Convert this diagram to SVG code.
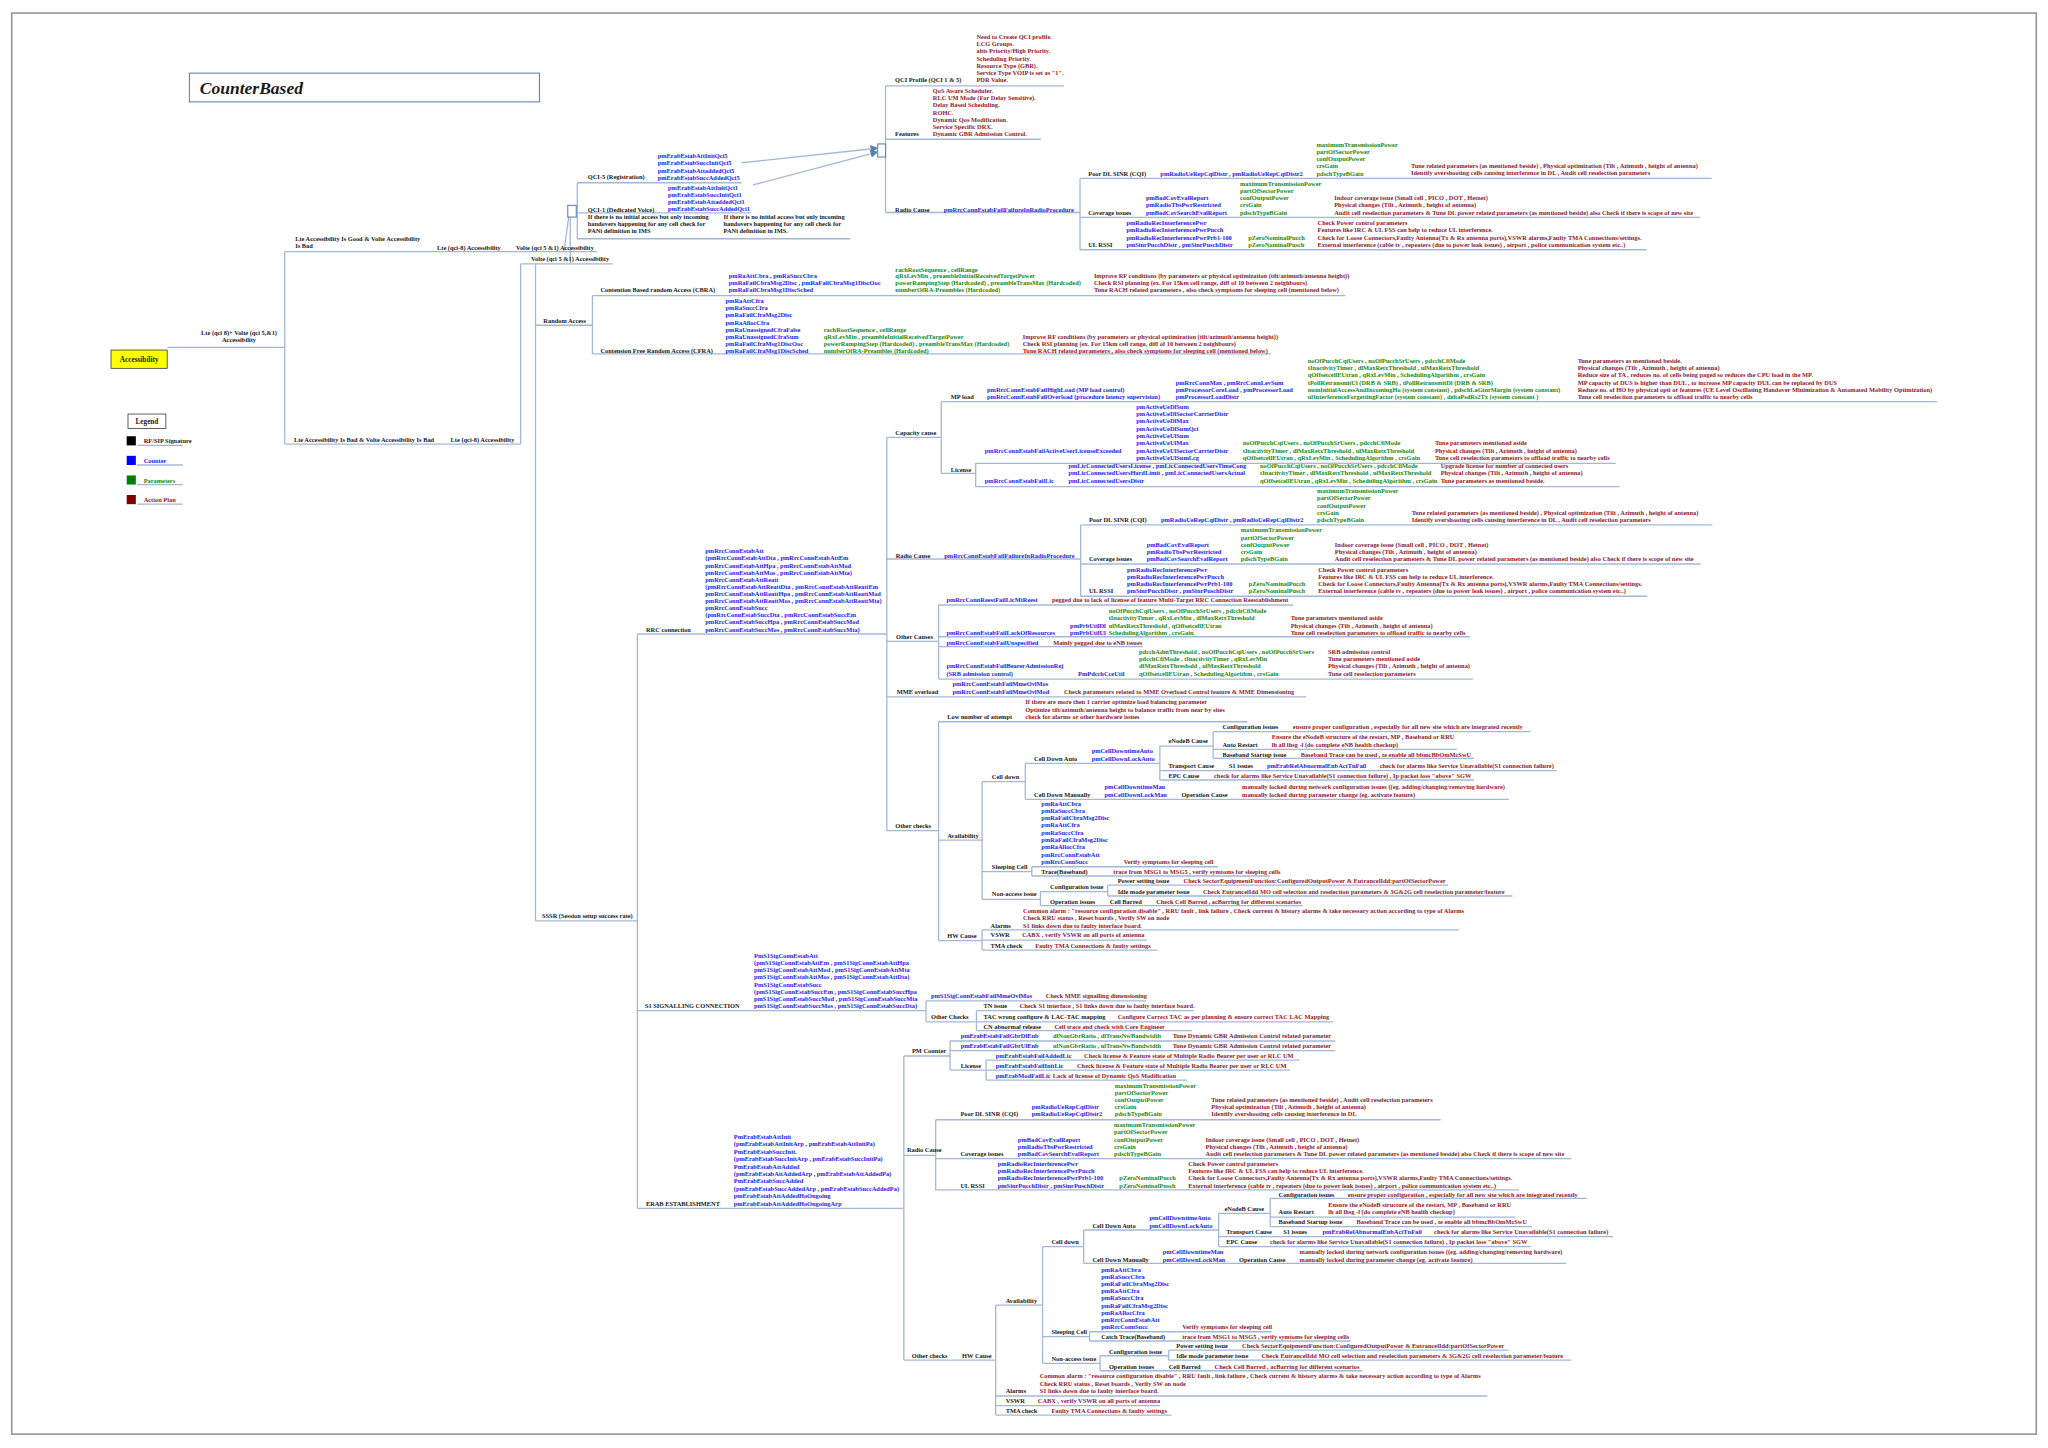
<svg xmlns="http://www.w3.org/2000/svg" width="2048" height="1448" viewBox="0 0 2048 1448">
<style>
text{font-family:"Liberation Serif","Times New Roman",serif;font-weight:bold;font-size:4.9px;}
.k{fill:#1a1a1a}
.b{fill:#1c1cf0}
.g{fill:#178a17}
.r{fill:#8e1b2c}
.c line{stroke:#a3b8d6;stroke-width:1;fill:none}
.box{fill:#fff;stroke:#5a80b0;stroke-width:0.8}
</style>
<defs>
<marker id="ah" markerWidth="6" markerHeight="6" refX="5" refY="3" orient="auto" markerUnits="userSpaceOnUse"><path d="M0,0 L6,3 L0,6 z" fill="#5a80b0"/></marker>
</defs>
<rect width="2048" height="1448" fill="#fff"/>
<g transform="scale(1.306122)">
<rect x="9" y="10" width="1550" height="1088" fill="none" stroke="#9a9a9a" stroke-width="1.3"/>

<g id="connectors" class="c">
<line x1="128" y1="266" x2="218" y2="266"/>
<line x1="218" y1="192.7" x2="218" y2="340"/>
<line x1="218" y1="192.7" x2="457" y2="192.7"/>
<line x1="218" y1="340" x2="398.6" y2="340"/>
<line x1="431.8" y1="192.7" x2="435.5" y2="165.4"/>
<line x1="436.6" y1="165.4" x2="436.6" y2="202"/>
<line x1="398.6" y1="202" x2="398.6" y2="340"/>
<line x1="398.6" y1="202" x2="469" y2="202"/>
<line x1="410" y1="202" x2="410" y2="705"/>
<line x1="410" y1="249" x2="453.6" y2="249"/>
<line x1="410" y1="705" x2="488" y2="705"/>
<line x1="453.6" y1="226.4" x2="453.6" y2="271"/>
<line x1="453.6" y1="226.4" x2="1030" y2="226.4"/>
<line x1="453.6" y1="271" x2="973" y2="271"/>
<line x1="442" y1="139.9" x2="442" y2="182.8"/>
<line x1="442" y1="139.9" x2="567.8" y2="139.9"/>
<line x1="442" y1="163" x2="574.8" y2="163"/>
<line x1="442" y1="182.8" x2="651" y2="182.8"/>
<line x1="567.8" y1="124.6" x2="671.5" y2="113.5" marker-end="url(#ah)"/>
<line x1="576.5" y1="141.6" x2="671.5" y2="116.5" marker-end="url(#ah)"/>
<line x1="678" y1="65.7" x2="678" y2="162.7"/>
<line x1="678" y1="65.7" x2="814.6" y2="65.7"/>
<line x1="678" y1="106.6" x2="796.8" y2="106.6"/>
<line x1="678" y1="162.7" x2="826.9" y2="162.7"/>
<line x1="826.9" y1="136.6" x2="826.9" y2="191.2"/>
<line x1="826.9" y1="136.6" x2="1310.5" y2="136.6"/>
<line x1="826.9" y1="166.5" x2="1301.6" y2="166.5"/>
<line x1="826.9" y1="191.2" x2="1260.7" y2="191.2"/>
<g transform="translate(0.5,265.3)">
<line x1="678" y1="162.7" x2="826.9" y2="162.7"/>
<line x1="826.9" y1="136.6" x2="826.9" y2="191.2"/>
<line x1="826.9" y1="136.6" x2="1310.5" y2="136.6"/>
<line x1="826.9" y1="166.5" x2="1301.6" y2="166.5"/>
<line x1="826.9" y1="191.2" x2="1260.7" y2="191.2"/>
</g>
<line x1="488" y1="485.4" x2="488" y2="925.2"/>
<line x1="488" y1="485.4" x2="679" y2="485.4"/>
<line x1="679" y1="334.8" x2="679" y2="636"/>
<line x1="679" y1="334.8" x2="720.6" y2="334.8"/>
<line x1="720.6" y1="307.5" x2="720.6" y2="362.4"/>
<line x1="720.6" y1="307.5" x2="1483" y2="307.5"/>
<line x1="720.6" y1="362.4" x2="747" y2="362.4"/>
<line x1="747" y1="354.7" x2="747" y2="372.6"/>
<line x1="747" y1="354.7" x2="1237" y2="354.7"/>
<line x1="747" y1="372.6" x2="1240" y2="372.6"/>
<line x1="679" y1="491" x2="718.6" y2="491"/>
<line x1="718.6" y1="463.2" x2="718.6" y2="519.9"/>
<line x1="718.6" y1="463.2" x2="990" y2="463.2"/>
<line x1="718.6" y1="487.5" x2="1125.5" y2="487.5"/>
<line x1="718.6" y1="495.1" x2="875" y2="495.1"/>
<line x1="718.6" y1="519.9" x2="1127.6" y2="519.9"/>
<line x1="679" y1="533.5" x2="1000" y2="533.5"/>
<line x1="679" y1="636" x2="718.6" y2="636"/>
<line x1="718.6" y1="552.6" x2="718.6" y2="720.2"/>
<line x1="718.6" y1="552.6" x2="955" y2="552.6"/>
<line x1="718.6" y1="643.2" x2="751.9" y2="643.2"/>
<line x1="751.9" y1="598.5" x2="751.9" y2="688.6"/>
<line x1="751.9" y1="598.5" x2="785" y2="598.5"/>
<line x1="785" y1="584.4" x2="785" y2="612"/>
<line x1="785" y1="584.4" x2="888" y2="584.4"/>
<line x1="888" y1="571.2" x2="888" y2="597.2"/>
<line x1="888" y1="571.2" x2="928.8" y2="571.2"/>
<line x1="928.8" y1="560.2" x2="928.8" y2="580.6"/>
<line x1="928.8" y1="560.2" x2="1171.8" y2="560.2"/>
<line x1="928.8" y1="573.7" x2="1115.3" y2="573.7"/>
<line x1="928.8" y1="580.6" x2="1128.6" y2="580.6"/>
<line x1="888" y1="590" x2="1191.7" y2="590"/>
<line x1="888" y1="597.2" x2="1128.6" y2="597.2"/>
<line x1="785" y1="612" x2="1155.2" y2="612"/>
<line x1="751.9" y1="667.4" x2="790" y2="667.4"/>
<line x1="790" y1="663.6" x2="790" y2="670.7"/>
<line x1="790" y1="663.6" x2="932.6" y2="663.6"/>
<line x1="790" y1="670.7" x2="972.6" y2="670.7"/>
<line x1="751.9" y1="688.6" x2="796.6" y2="688.6"/>
<line x1="796.6" y1="682.7" x2="796.6" y2="693.4"/>
<line x1="796.6" y1="682.7" x2="848.1" y2="682.7"/>
<line x1="848.1" y1="677.6" x2="848.1" y2="686"/>
<line x1="848.1" y1="677.6" x2="1108.6" y2="677.6"/>
<line x1="848.1" y1="686" x2="1157.9" y2="686"/>
<line x1="796.6" y1="693.4" x2="997.5" y2="693.4"/>
<line x1="718.6" y1="720.2" x2="751.9" y2="720.2"/>
<line x1="751.9" y1="712" x2="751.9" y2="727.4"/>
<line x1="751.9" y1="712" x2="1117" y2="712"/>
<line x1="751.9" y1="719.8" x2="878" y2="719.8"/>
<line x1="751.9" y1="727.4" x2="886.2" y2="727.4"/>
<line x1="488" y1="773.8" x2="709" y2="773.8"/>
<line x1="709" y1="766.3" x2="709" y2="782.3"/>
<line x1="709" y1="766.3" x2="877.5" y2="766.3"/>
<line x1="709" y1="782.3" x2="747.6" y2="782.3"/>
<line x1="747.6" y1="773.8" x2="747.6" y2="789"/>
<line x1="747.6" y1="773.8" x2="914" y2="773.8"/>
<line x1="747.6" y1="782.3" x2="1020.6" y2="782.3"/>
<line x1="747.6" y1="789" x2="912.5" y2="789"/>
<line x1="488" y1="925.2" x2="692" y2="925.2"/>
<line x1="692" y1="808.5" x2="692" y2="1041.3"/>
<line x1="692" y1="808.5" x2="727.4" y2="808.5"/>
<line x1="727.4" y1="797" x2="727.4" y2="819.3"/>
<line x1="727.4" y1="797" x2="1022.3" y2="797"/>
<line x1="727.4" y1="804.4" x2="1022.3" y2="804.4"/>
<line x1="727.4" y1="819.3" x2="755" y2="819.3"/>
<line x1="755" y1="811.6" x2="755" y2="827"/>
<line x1="755" y1="811.6" x2="994.9" y2="811.6"/>
<line x1="755" y1="819.3" x2="987.7" y2="819.3"/>
<line x1="755" y1="827" x2="908.8" y2="827"/>
<line x1="692" y1="884.6" x2="716.4" y2="884.6"/>
<line x1="716.4" y1="857.3" x2="716.4" y2="911"/>
<line x1="716.4" y1="857.3" x2="1103" y2="857.3"/>
<line x1="716.4" y1="887" x2="1203" y2="887"/>
<line x1="716.4" y1="911" x2="1163" y2="911"/>
<line x1="692" y1="1041.3" x2="762.3" y2="1041.3"/>
<line x1="762.3" y1="999.2" x2="762.3" y2="1083.4"/>
<line x1="762.3" y1="999.2" x2="798.2" y2="999.2"/>
<line x1="798.2" y1="954.5" x2="798.2" y2="1043.8"/>
<line x1="798.2" y1="954.5" x2="829.7" y2="954.5"/>
<line x1="829.7" y1="941.7" x2="829.7" y2="967.2"/>
<line x1="829.7" y1="941.7" x2="933" y2="941.7"/>
<line x1="933" y1="929" x2="933" y2="954.5"/>
<line x1="933" y1="929" x2="972.5" y2="929"/>
<line x1="972.5" y1="917.5" x2="972.5" y2="939.2"/>
<line x1="972.5" y1="917.5" x2="1215" y2="917.5"/>
<line x1="972.5" y1="931.8" x2="1160" y2="931.8"/>
<line x1="972.5" y1="939.2" x2="1173" y2="939.2"/>
<line x1="933" y1="946.8" x2="1235" y2="946.8"/>
<line x1="933" y1="954.5" x2="1172" y2="954.5"/>
<line x1="829.7" y1="967.2" x2="1199" y2="967.2"/>
<line x1="798.2" y1="1023.4" x2="834.2" y2="1023.4"/>
<line x1="834.2" y1="1019.6" x2="834.2" y2="1026.7"/>
<line x1="834.2" y1="1019.6" x2="973.5" y2="1019.6"/>
<line x1="834.2" y1="1026.7" x2="1034" y2="1026.7"/>
<line x1="798.2" y1="1043.8" x2="842.2" y2="1043.8"/>
<line x1="842.2" y1="1038" x2="842.2" y2="1049.5"/>
<line x1="842.2" y1="1038" x2="894.8" y2="1038"/>
<line x1="894.8" y1="1033.7" x2="894.8" y2="1041.3"/>
<line x1="894.8" y1="1033.7" x2="1155" y2="1033.7"/>
<line x1="894.8" y1="1041.3" x2="1203" y2="1041.3"/>
<line x1="842.2" y1="1049.5" x2="1043.1" y2="1049.5"/>
<line x1="762.3" y1="1068.8" x2="1138.8" y2="1068.8"/>
<line x1="762.3" y1="1076.2" x2="888" y2="1076.2"/>
<line x1="762.3" y1="1083.4" x2="897" y2="1083.4"/>
<line x1="105" y1="341" x2="140" y2="341"/>
<line x1="105" y1="356" x2="140" y2="356"/>
<line x1="105" y1="371" x2="140" y2="371"/>
<line x1="105" y1="386" x2="140" y2="386"/>
</g>

<g id="title"><rect x="145" y="56" width="268" height="22" class="box"/><text x="153" y="72" class="k" style="font-size:13.4px;font-style:italic">CounterBased</text></g>

<g id="legend">
<rect x="98" y="317" width="29" height="11" fill="#fff" stroke="#333" stroke-width="0.6"/>
<text class="k" x="112.5" y="325" text-anchor="middle" style="font-size:5.5px">Legend</text>
<rect x="97" y="334" width="7" height="7" fill="#000"/>
<rect x="97" y="349" width="7" height="7" fill="#0000ff"/>
<rect x="97" y="364" width="7" height="7" fill="#008000"/>
<rect x="97" y="379" width="7" height="7" fill="#800000"/>
<text class="k" x="110" y="339.5">RF/SIP Signature</text>
<text class="b" x="110" y="354.5">Counter</text>
<text class="g" x="110" y="369.5">Parameters</text>
<text class="r" x="110" y="384.5">Action Plan</text>
</g>

<g id="root"><rect x="85" y="268" width="43" height="14" fill="#ffff00" stroke="#333" stroke-width="0.6"/><text class="k" x="106.5" y="277.3" text-anchor="middle" style="font-size:5.6px">Accessibility</text></g>

<g id="nodes" transform="translate(0,1.2)">
<g id="n-lte-volte"><text class="k" x="183" y="255.5" text-anchor="middle">Lte (qci 8)+ Volte (qci 5,&amp;1)<tspan x="183" dy="5.5">Accessibility</tspan></text></g>
<g id="n-good-bad"><text class="k" x="226" y="183">Lte Accessibility Is Good &amp; Volte Accessibility<tspan x="226" dy="5.5">Is Bad</tspan></text>
<text class="k" x="334.6" y="190">Lte (qci-8) Accessibility</text>
<text class="k" x="395" y="190">Volte (qci 5 &amp;1) Accessibility</text></g>
<g id="n-bad-bad"><text class="k" x="225" y="337">Lte Accessibility Is Bad &amp; Volte Accessibility Is Bad</text>
<text class="k" x="345" y="337">Lte (qci-8) Accessibility</text></g>
<g id="n-volte2"><text class="k" x="406.6" y="198.5">Volte (qci 5 &amp;1) Accessibility</text></g>

<g id="n-qci"><rect x="434.7" y="156" width="6.5" height="9" class="box"/>
<rect x="672" y="109" width="6" height="10" class="box"/>
<text class="k" x="450" y="136">QCI-5 (Registration)</text>
<text class="b" x="503.6" y="120">pmErabEstabAttInitQci5<tspan x="503.6" dy="5.45">pmErabEstabSuccInitQci5</tspan><tspan x="503.6" dy="5.45">pmErabEstabAttaddedQci5</tspan><tspan x="503.6" dy="5.45">pmErabEstabSuccAddedQci5</tspan></text>
<text class="k" x="450" y="161">QCI-1 (Dedicated Voice)</text>
<text class="b" x="511.5" y="144.3">pmErabEstabAttInitQci1<tspan x="511.5" dy="5.45">pmErabEstabSuccInitQci1</tspan><tspan x="511.5" dy="5.45">pmErabEstabAttaddedQci1</tspan><tspan x="511.5" dy="5.45">pmErabEstabSuccAddedQci1</tspan></text>
<text class="k" x="450" y="166.3">If there is no initial access but only incoming<tspan x="450" dy="5.5">handovers happening  for any cell check for</tspan><tspan x="450" dy="5.5">PANi definition in IMS</tspan></text>
<text class="k" x="554" y="166.3">If there is no initial access but only incoming<tspan x="554" dy="5.5">handovers happening  for any cell check for</tspan><tspan x="554" dy="5.5">PANi definition in IMS.</tspan></text>
</g>

<g id="n-qciprofile"><text class="k" x="685.3" y="61.8">QCI Profile (QCI 1 &amp; 5)</text>
<text class="r" x="747.6" y="28.6">Need to Create QCI profile.<tspan x="747.6" dy="5.53">LCG Groups.</tspan><tspan x="747.6" dy="5.53">abis Priority/High Priority.</tspan><tspan x="747.6" dy="5.53">Scheduling Priority.</tspan><tspan x="747.6" dy="5.53">Resource Type (GBR).</tspan><tspan x="747.6" dy="5.53">Service Type VOIP is set as "1".</tspan><tspan x="747.6" dy="5.53">PDR Value.</tspan></text></g>
<g id="n-features"><text class="k" x="685.3" y="103.2">Features</text>
<text class="r" x="714.2" y="70">QoS Aware Scheduler.<tspan x="714.2" dy="5.53">RLC UM Mode (For Delay Sensitive).</tspan><tspan x="714.2" dy="5.53">Delay Based Scheduling.</tspan><tspan x="714.2" dy="5.53">ROHC.</tspan><tspan x="714.2" dy="5.53">Dynamic Qos Modification.</tspan><tspan x="714.2" dy="5.53">Service Specific DRX.</tspan><tspan x="714.2" dy="5.53">Dynamic GBR Admission Control.</tspan></text></g>

<g id="n-rc1">
<text class="k" x="685.3" y="160.9">Radio Cause</text>
<text class="b" x="722.5" y="160.9">pmRrcConnEstabFailFailureInRadioProcedure</text>
<text class="k" x="833.2" y="133.2">Poor DL SINR (CQI)</text>
<text class="b" x="888.4" y="133.2">pmRadioUeRepCqiDistr , pmRadioUeRepCqiDistr2</text>
<text class="g" x="1007.9" y="111.1">maximumTransmissionPower<tspan x="1007.9" dy="5.52">partOfSectorPower</tspan><tspan x="1007.9" dy="5.52">confOutputPower</tspan><tspan x="1007.9" dy="5.52">crsGain</tspan><tspan x="1007.9" dy="5.52">pdschTypeBGain</tspan></text>
<text class="r" x="1080.3" y="127.6">Tune related parameters (as mentioned beside) , Physical optimization (Tilt , Azimuth , height of antenna)<tspan x="1080.3" dy="5.52">Identify overshooting cells causing interference in DL , Audit cell reselection parameters</tspan></text>
<text class="k" x="833.2" y="163.2">Coverage issues</text>
<text class="b" x="877.4" y="152.1">pmBadCovEvalReport<tspan x="877.4" dy="5.52">pmRadioTbsPwrRestricted</tspan><tspan x="877.4" dy="5.52">pmBadCovSearchEvalReport</tspan></text>
<text class="g" x="949.4" y="141.1">maximumTransmissionPower<tspan x="949.4" dy="5.52">partOfSectorPower</tspan><tspan x="949.4" dy="5.52">confOutputPower</tspan><tspan x="949.4" dy="5.52">crsGain</tspan><tspan x="949.4" dy="5.52">pdschTypeBGain</tspan></text>
<text class="r" x="1021.5" y="152.1">Indoor coverage issue (Small cell , PICO , DOT , Hetnet)<tspan x="1021.5" dy="5.52">Physical changes (Tilt , Azimuth , height of antenna)</tspan><tspan x="1021.5" dy="5.52">Audit cell reselection parameters &amp; Tune DL power related parameters (as mentioned beside) also Check if there is scope of new site</tspan></text>
<text class="k" x="833.2" y="187.8">UL RSSI</text>
<text class="b" x="862.4" y="171.2">pmRadioRecInterferencePwr<tspan x="862.4" dy="5.52">pmRadioRecInterferencePwrPucch</tspan><tspan x="862.4" dy="5.52">pmRadioRecInterferencePwrPrb1-100</tspan><tspan x="862.4" dy="5.52">pmSinrPucchDistr , pmSinrPuschDistr</tspan></text>
<text class="g" x="955.6" y="182.2">pZeroNominalPucch<tspan x="955.6" dy="5.52">pZeroNominalPusch</tspan></text>
<text class="r" x="1008.8" y="171.2">Check Power control parameters<tspan x="1008.8" dy="5.52">Features like IRC &amp; UL FSS can help to reduce UL interference.</tspan><tspan x="1008.8" dy="5.52">Check for Loose Connectors,Faulty Antenna(Tx &amp; Rx antenna ports),VSWR alarms,Faulty TMA Connections/settings.</tspan><tspan x="1008.8" dy="5.52">External interference (cable tv , repeaters (due to power leak issues) , airport , police communication system etc..)</tspan></text>
</g>

<g id="n-random-access"><text class="k" x="416" y="246">Random Access</text>
<text class="k" x="459.7" y="222.6">Contention Based random Access (CBRA)</text>
<text class="b" x="558" y="212">pmRaAttCbra , pmRaSuccCbra<tspan x="558" dy="5.3">pmRaFailCbraMsg2Disc , pmRaFailCbraMsg1DiscOoc</tspan><tspan x="558" dy="5.3">pmRaFailCbraMsg1DiscSched</tspan></text>
<text class="g" x="685.5" y="206.7">rachRootSequence , cellRange<tspan x="685.5" dy="5.3">qRxLevMin , preambleInitialReceivedTargetPower</tspan><tspan x="685.5" dy="5.3">powerRampingStep (Hardcoded) , preambleTransMax (Hardcoded)</tspan><tspan x="685.5" dy="5.3">numberOfRA-Preambles (Hardcoded)</tspan></text>
<text class="r" x="837.5" y="212">Improve RF conditions (by parameters or physical optimization (tilt/azimuth/antenna height))<tspan x="837.5" dy="5.3">Check RSI planning (ex. For 15km cell range, diff of 10 between 2 neighbours)</tspan><tspan x="837.5" dy="5.3">Tune RACH related parameters , also check symptoms for sleeping cell (mentioned below)</tspan></text>
<text class="k" x="459.7" y="269.3">Contension Free Random Access (CFRA)</text>
<text class="b" x="555.5" y="230.8">pmRaAttCfra<tspan x="555.5" dy="5.5">pmRaSuccCfra</tspan><tspan x="555.5" dy="5.5">pmRaFailCfraMsg2Disc</tspan><tspan x="555.5" dy="5.5">pmRaAllocCfra</tspan><tspan x="555.5" dy="5.5">pmRaUnassignedCfraFalse</tspan><tspan x="555.5" dy="5.5">pmRaUnassignedCfraSum</tspan><tspan x="555.5" dy="5.5">pmRaFailCfraMsg1DiscOoc</tspan><tspan x="555.5" dy="5.5">pmRaFailCfraMsg1DiscSched</tspan></text>
<text class="g" x="630.7" y="252.8">rachRootSequence , cellRange<tspan x="630.7" dy="5.5">qRxLevMin , preambleInitialReceivedTargetPower</tspan><tspan x="630.7" dy="5.5">powerRampingStep (Hardcoded) , preambleTransMax (Hardcoded)</tspan><tspan x="630.7" dy="5.5">numberOfRA-Preambles (Hardcoded)</tspan></text>
<text class="r" x="783" y="258.3">Improve RF conditions (by parameters or physical optimization (tilt/azimuth/antenna height))<tspan x="783" dy="5.5">Check RSI planning (ex. For 15km cell range, diff of 10 between 2 neighbours)</tspan><tspan x="783" dy="5.5">Tune RACH related parameters , also check symptoms for sleeping cell (mentioned below)</tspan></text>
</g>

<g id="n-sssr"><text class="k" x="415" y="702">SSSR (Session setup success rate)</text></g>

<g id="n-rrc"><text class="k" x="494.6" y="482.4">RRC connection</text>
<text class="b" x="540" y="422.4">pmRrcConnEstabAtt<tspan x="540" dy="5.45">(pmRrcConnEstabAttDta , pmRrcConnEstabAttEm</tspan><tspan x="540" dy="5.45">pmRrcConnEstabAttHpa , pmRrcConnEstabAttMod</tspan><tspan x="540" dy="5.45">pmRrcConnEstabAttMos , pmRrcConnEstabAttMta)</tspan><tspan x="540" dy="5.45">pmRrcConnEstabAttReatt</tspan><tspan x="540" dy="5.45">(pmRrcConnEstabAttReattDta , pmRrcConnEstabAttReattEm</tspan><tspan x="540" dy="5.45">pmRrcConnEstabAttReattHpa , pmRrcConnEstabAttReattMod</tspan><tspan x="540" dy="5.45">pmRrcConnEstabAttReattMos , pmRrcConnEstabAttReattMta)</tspan><tspan x="540" dy="5.45">pmRrcConnEstabSucc</tspan><tspan x="540" dy="5.45">(pmRrcConnEstabSuccDta , pmRrcConnEstabSuccEm</tspan><tspan x="540" dy="5.45">pmRrcConnEstabSuccHpa , pmRrcConnEstabSuccMod</tspan><tspan x="540" dy="5.45">pmRrcConnEstabSuccMos , pmRrcConnEstabSuccMta)</tspan></text>
</g>

<g id="n-capacity"><text class="k" x="685.5" y="331.8">Capacity cause</text>
<text class="k" x="728" y="304.5">MP load</text>
<text class="b" x="755.7" y="298.8">pmRrcConnEstabFailHighLoad (MP load control)<tspan x="755.7" dy="5.65">pmRrcConnEstabFailOverload (procedure latency supervision)</tspan></text>
<text class="b" x="900.2" y="293.2">pmRrcConnMax , pmRrcConnLevSum<tspan x="900.2" dy="5.65">pmProcessorCoreLoad , pmProcessorLoad</tspan><tspan x="900.2" dy="5.65">pmProcessorLoadDistr</tspan></text>
<text class="g" x="1001.3" y="276.4">noOfPucchCqiUsers , noOfPucchSrUsers , pdcchCfiMode<tspan x="1001.3" dy="5.62">tInactivityTimer , dlMaxRetxThreshold , ulMaxRetxThreshold</tspan><tspan x="1001.3" dy="5.62">qOffsetcellEUtran , qRxLevMin , SchedulingAlgorithm , crsGain</tspan><tspan x="1001.3" dy="5.62">tPollRetransmitUl (DRB &amp; SRB) , tPollRetransmitDl (DRB &amp; SRB)</tspan><tspan x="1001.3" dy="5.62">numInitialAccessAndIncomingHo (system constant) , pdschLaGinrMargin (system constant)</tspan><tspan x="1001.3" dy="5.62">ulInterferenceForgettingFactor (system constant) , deltaPsdRs2Tx (system constant )</tspan></text>
<text class="r" x="1207.9" y="276.4">Tune parameters as mentioned beside.<tspan x="1207.9" dy="5.62">Physical changes (Tilt , Azimuth , height of antenna)</tspan><tspan x="1207.9" dy="5.62">Reduce size of TA , reduces no. of cells being paged so reduces the CPU load in the MP.</tspan><tspan x="1207.9" dy="5.62">MP capacity of DUS is higher than DUL , to increase MP capacity DUL can be replaced by DUS</tspan><tspan x="1207.9" dy="5.62">Reduce no. of HO by physical opti or features (UE Level Oscillating Handover Minimization &amp; Automated Mobility Optimization)</tspan><tspan x="1207.9" dy="5.62">Tune cell reselection parameters to offload traffic to nearby cells</tspan></text>
<text class="k" x="728" y="360.4">License</text>
<text class="b" x="754" y="345.4">pmRrcConnEstabFailActiveUserLicenseExceeded</text>
<text class="b" x="870" y="311.9">pmActiveUeDlSum<tspan x="870" dy="5.57">pmActiveUeDlSectorCarrierDistr</tspan><tspan x="870" dy="5.57">pmActiveUeDlMax</tspan><tspan x="870" dy="5.57">pmActiveUeDlSumQci</tspan><tspan x="870" dy="5.57">pmActiveUeUlSum</tspan><tspan x="870" dy="5.57">pmActiveUeUlMax</tspan><tspan x="870" dy="5.57">pmActiveUeUlSectorCarrierDistr</tspan><tspan x="870" dy="5.57">pmActiveUeUlSumLcg</tspan></text>
<text class="g" x="951.5" y="339.8">noOfPucchCqiUsers , noOfPucchSrUsers , pdcchCfiMode<tspan x="951.5" dy="5.6">tInactivityTimer , dlMaxRetxThreshold , ulMaxRetxThreshold</tspan><tspan x="951.5" dy="5.6">qOffsetcellEUtran , qRxLevMin , SchedulingAlgorithm , crsGain</tspan></text>
<text class="r" x="1098.6" y="339.8">Tune parameters mentioned aside<tspan x="1098.6" dy="5.6">Physical changes  (Tilt , Azimuth , height of antenna)</tspan><tspan x="1098.6" dy="5.6">Tune cell reselection parameters to offload traffic to nearby cells</tspan></text>
<text class="b" x="754" y="368.5">pmRrcConnEstabFailLic</text>
<text class="b" x="818" y="357.2">pmLicConnectedUsersLicense , pmLicConnectedUsersTimeCong<tspan x="818" dy="5.65">pmLicConnectedUsersHardLimit , pmLicConnectedUsersActual</tspan><tspan x="818" dy="5.65">pmLicConnectedUsersDistr</tspan></text>
<text class="g" x="964.7" y="357.2">noOfPucchCqiUsers , noOfPucchSrUsers , pdcchCfiMode<tspan x="964.7" dy="5.65">tInactivityTimer , dlMaxRetxThreshold , ulMaxRetxThreshold</tspan><tspan x="964.7" dy="5.65">qOffsetcellEUtran , qRxLevMin , SchedulingAlgorithm , crsGain</tspan></text>
<text class="r" x="1103" y="357.2">Upgrade license for number of connected users<tspan x="1103" dy="5.65">Physical changes (Tilt , Azimuth , height of antenna)</tspan><tspan x="1103" dy="5.65">Tune parameters as mentioned beside.</tspan></text>
</g>

<g id="n-rc2" transform="translate(0.5,265.3)">
<text class="k" x="685.3" y="160.9">Radio Cause</text>
<text class="b" x="722.5" y="160.9">pmRrcConnEstabFailFailureInRadioProcedure</text>
<text class="k" x="833.2" y="133.2">Poor DL SINR (CQI)</text>
<text class="b" x="888.4" y="133.2">pmRadioUeRepCqiDistr , pmRadioUeRepCqiDistr2</text>
<text class="g" x="1007.9" y="111.1">maximumTransmissionPower<tspan x="1007.9" dy="5.52">partOfSectorPower</tspan><tspan x="1007.9" dy="5.52">confOutputPower</tspan><tspan x="1007.9" dy="5.52">crsGain</tspan><tspan x="1007.9" dy="5.52">pdschTypeBGain</tspan></text>
<text class="r" x="1080.3" y="127.6">Tune related parameters (as mentioned beside) , Physical optimization (Tilt , Azimuth , height of antenna)<tspan x="1080.3" dy="5.52">Identify overshooting cells causing interference in DL , Audit cell reselection parameters</tspan></text>
<text class="k" x="833.2" y="163.2">Coverage issues</text>
<text class="b" x="877.4" y="152.1">pmBadCovEvalReport<tspan x="877.4" dy="5.52">pmRadioTbsPwrRestricted</tspan><tspan x="877.4" dy="5.52">pmBadCovSearchEvalReport</tspan></text>
<text class="g" x="949.4" y="141.1">maximumTransmissionPower<tspan x="949.4" dy="5.52">partOfSectorPower</tspan><tspan x="949.4" dy="5.52">confOutputPower</tspan><tspan x="949.4" dy="5.52">crsGain</tspan><tspan x="949.4" dy="5.52">pdschTypeBGain</tspan></text>
<text class="r" x="1021.5" y="152.1">Indoor coverage issue (Small cell , PICO , DOT , Hetnet)<tspan x="1021.5" dy="5.52">Physical changes (Tilt , Azimuth , height of antenna)</tspan><tspan x="1021.5" dy="5.52">Audit cell reselection parameters &amp; Tune DL power related parameters (as mentioned beside) also Check if there is scope of new site</tspan></text>
<text class="k" x="833.2" y="187.8">UL RSSI</text>
<text class="b" x="862.4" y="171.2">pmRadioRecInterferencePwr<tspan x="862.4" dy="5.52">pmRadioRecInterferencePwrPucch</tspan><tspan x="862.4" dy="5.52">pmRadioRecInterferencePwrPrb1-100</tspan><tspan x="862.4" dy="5.52">pmSinrPucchDistr , pmSinrPuschDistr</tspan></text>
<text class="g" x="955.6" y="182.2">pZeroNominalPucch<tspan x="955.6" dy="5.52">pZeroNominalPusch</tspan></text>
<text class="r" x="1008.8" y="171.2">Check Power control parameters<tspan x="1008.8" dy="5.52">Features like IRC &amp; UL FSS can help to reduce UL interference.</tspan><tspan x="1008.8" dy="5.52">Check for Loose Connectors,Faulty Antenna(Tx &amp; Rx antenna ports),VSWR alarms,Faulty TMA Connections/settings.</tspan><tspan x="1008.8" dy="5.52">External interference (cable tv , repeaters (due to power leak issues) , airport , police communication system etc..)</tspan></text>
</g>

<g id="n-other-causes"><text class="k" x="686" y="487.8">Other Causes</text>
<text class="b" x="724.6" y="459.9">pmRrcConnReestFailLicMtReest</text>
<text class="r" x="805.4" y="459.9">pegged due to lack of license of feature Multi-Target RRC Connection Reestablishment</text>
<text class="b" x="724.6" y="484.9">pmRrcConnEstabFailLackOfResources</text>
<text class="b" x="819.3" y="479.3">pmPrbUtilDl<tspan x="819.3" dy="5.6">pmPrbUtilUl</tspan></text>
<text class="g" x="848.8" y="468">noOfPucchCqiUsers , noOfPucchSrUsers , pdcchCfiMode<tspan x="848.8" dy="5.63">tInactivityTimer , qRxLevMin , dlMaxRetxThreshold</tspan><tspan x="848.8" dy="5.63">ulMaxRetxThreshold , qOffsetcellEUtran</tspan><tspan x="848.8" dy="5.63">SchedulingAlgorithm , crsGain</tspan></text>
<text class="r" x="988.2" y="473.7">Tune parameters mentioned aside<tspan x="988.2" dy="5.6">Physical changes  (Tilt , Azimuth , height of antenna)</tspan><tspan x="988.2" dy="5.6">Tune cell reselection parameters to offload traffic to nearby cells</tspan></text>
<text class="b" x="724.6" y="492.6">pmRrcConnEstabFailUnspecified</text>
<text class="r" x="806.3" y="492.6">Mainly pegged due to eNB issues</text>
<text class="b" x="724.6" y="510.4">pmRrcConnEstabFailBearerAdmissionRej<tspan x="724.6" dy="5.6">(SRB admission control)</tspan></text>
<text class="b" x="825.4" y="516">PmPdcchCceUtil</text>
<text class="g" x="872.1" y="499.7">pdcchAdmThreshold , noOfPucchCqiUsers , noOfPucchSrUsers<tspan x="872.1" dy="5.43">pdcchCfiMode , tInactivityTimer , qRxLevMin</tspan><tspan x="872.1" dy="5.43">dlMaxRetxThreshold , ulMaxRetxThreshold</tspan><tspan x="872.1" dy="5.43">qOffsetcellEUtran , SchedulingAlgorithm , crsGain</tspan></text>
<text class="r" x="1016.8" y="499.7">SRB admission control<tspan x="1016.8" dy="5.43">Tune parameters mentioned aside</tspan><tspan x="1016.8" dy="5.43">Physical changes (Tilt , Azimuth , height of antenna)</tspan><tspan x="1016.8" dy="5.43">Tune cell reselection parameters</tspan></text>
</g>

<g id="n-mme"><text class="k" x="686.5" y="530">MME overload</text>
<text class="b" x="729.2" y="523.9">pmRrcConnEstabFailMmeOvlMos<tspan x="729.2" dy="6.1">pmRrcConnEstabFailMmeOvlMod</tspan></text>
<text class="r" x="814.6" y="530">Check parameters related to MME Overload Control feature &amp; MME Dimensioning</text></g>

<g id="n-other-checks-rrc"><text class="k" x="685.4" y="633">Other checks</text>
<text class="k" x="725.2" y="549.2">Low number of attempt</text>
<text class="r" x="785" y="538">If there are more then 1 carrier optimize load balancing parameter<tspan x="785" dy="5.6">Optimize tilt/azimuth/antenna height to balance traffic from near by sites</tspan><tspan x="785" dy="5.6">check for alarms or other hardware issues</tspan></text>
<text class="k" x="725.2" y="640.1">Availability</text>
<text class="k" x="759.4" y="595.2">Cell down</text>
<text class="k" x="791.7" y="581.1">Cell Down Auto</text>
<text class="b" x="835.8" y="575.5">pmCellDowntimeAuto<tspan x="835.8" dy="5.6">pmCellDownLockAuto</tspan></text>
<text class="k" x="894.6" y="567.9">eNodeB Cause</text>
<text class="k" x="936" y="556.9">Configuration issues</text>
<text class="r" x="989.8" y="556.9">ensure proper configuration , especially for all new site which are integrated recently</text>
<text class="k" x="936" y="570.4">Auto Restart</text>
<text class="r" x="973.6" y="564.8">Ensure the eNodeB structure of the restart, MP , Baseband or RRU<tspan x="973.6" dy="5.6">lh all lhsg -l (do complete eNB health checkup)</tspan></text>
<text class="k" x="936" y="578">Baseband Startup issue</text>
<text class="r" x="995.8" y="578">Baseband Trace can be used  , te enable all bbmcBbOmMcSwU</text>
<text class="k" x="894.6" y="587">Transport Cause</text>
<text class="k" x="941" y="587">S1 issues</text>
<text class="b" x="970" y="587">pmErabRelAbnormalEnbActTnFail</text>
<text class="r" x="1056.3" y="587">check for alarms like Service Unavailable(S1 connection failure)</text>
<text class="k" x="894.6" y="594.7">EPC Cause</text>
<text class="r" x="929.5" y="594.7">check for alarms like Service Unavailable(S1 connection failure) , Ip packet loss "above" SGW</text>
<text class="k" x="791.7" y="608.7">Cell Down Manually</text>
<text class="b" x="845.7" y="602.8">pmCellDowntimeMan<tspan x="845.7" dy="5.9">pmCellDownLockMan</tspan></text>
<text class="k" x="904.5" y="608.7">Operation Cause</text>
<text class="r" x="951" y="602.8">manually locked during network configuration issues ((eg. adding/changing/removing hardware)<tspan x="951" dy="5.9">manually locked during parameter change (eg. activate feature)</tspan></text>
<text class="k" x="759.4" y="664.1">Sleeping Cell</text>
<text class="b" x="797.3" y="615.6">pmRaAttCbra<tspan x="797.3" dy="5.57">pmRaSuccCbra</tspan><tspan x="797.3" dy="5.57">pmRaFailCbraMsg2Disc</tspan><tspan x="797.3" dy="5.57">pmRaAttCfra</tspan><tspan x="797.3" dy="5.57">pmRaSuccCfra</tspan><tspan x="797.3" dy="5.57">pmRaFailCfraMsg2Disc</tspan><tspan x="797.3" dy="5.57">pmRaAllocCfra</tspan><tspan x="797.3" dy="5.57">pmRrcConnEstabAtt</tspan><tspan x="797.3" dy="5.57">pmRrcConnSucc</tspan></text>
<text class="r" x="860.3" y="660.2">Verify symptoms for sleeping cell</text>
<text class="k" x="797.3" y="668.2">Trace(Baseband)</text>
<text class="r" x="852.4" y="668.2">trace from MSG1 to MSG5 , verify symtoms for sleeping cells</text>
<text class="k" x="759.4" y="684.7">Non-access issue</text>
<text class="k" x="804" y="679.4">Configuration issue</text>
<text class="k" x="855.7" y="675">Power setting issue</text>
<text class="r" x="906.2" y="675">Check SectorEquipmentFunction:ConfiguredOutputPower &amp; EutrancelIdd:partOfSectorPower</text>
<text class="k" x="855.7" y="683.2">Idle mode parameter issue</text>
<text class="r" x="921" y="683.2">Check EutrancelIdd MO cell selection and reselection parameters &amp; 3G&amp;2G cell reselection parameter/feature</text>
<text class="k" x="804" y="690.9">Operation issues</text>
<text class="k" x="849.7" y="690.9">Cell Barred</text>
<text class="r" x="885.2" y="690.9">Check Cell Barred , acBarring for different scenarios</text>
<text class="k" x="725.2" y="717.2">HW Cause</text>
<text class="k" x="758.4" y="709">Alarms</text>
<text class="r" x="783.3" y="698">Common alarm : "resource configuration disable" , RRU fault , link failure , Check current &amp; history alarms &amp; take necessary action according to type of Alarms<tspan x="783.3" dy="5.5">Check RRU status , Reset boards , Verify SW on node</tspan><tspan x="783.3" dy="5.5">S1 links down due to faulty interface board.</tspan></text>
<text class="k" x="758.4" y="716.4">VSWR</text>
<text class="r" x="782.6" y="716.4">CABX , verify VSWR on all ports of antenna</text>
<text class="k" x="758.4" y="724.8">TMA check</text>
<text class="r" x="792.6" y="724.8">Faulty TMA Connections &amp; faulty settings</text>
</g>

<g id="n-s1"><text class="k" x="493.8" y="770.7">S1 SIGNALLING CONNECTION</text>
<text class="b" x="577.3" y="732.2">PmS1SigConnEstabAtt<tspan x="577.3" dy="5.5">(pmS1SigConnEstabAttEm , pmS1SigConnEstabAttHpa</tspan><tspan x="577.3" dy="5.5">pmS1SigConnEstabAttMod , pmS1SigConnEstabAttMta</tspan><tspan x="577.3" dy="5.5">pmS1SigConnEstabAttMos , pmS1SigConnEstabAttDta)</tspan><tspan x="577.3" dy="5.5">PmS1SigConnEstabSucc</tspan><tspan x="577.3" dy="5.5">(pmS1SigConnEstabSuccEm , pmS1SigConnEstabSuccHpa</tspan><tspan x="577.3" dy="5.5">pmS1SigConnEstabSuccMod , pmS1SigConnEstabSuccMta</tspan><tspan x="577.3" dy="5.5">pmS1SigConnEstabSuccMos , pmS1SigConnEstabSuccDta)</tspan></text>
<text class="b" x="712.8" y="763.2">pmS1SigConnEstabFailMmeOvlMos</text>
<text class="r" x="800.7" y="763.2">Check MME signalling dimensioning</text>
<text class="k" x="712.8" y="779">Other Checks</text>
<text class="k" x="753" y="770.7">TN issue</text>
<text class="r" x="780.6" y="770.7">Check S1 interface , S1 links down due to faulty interface board.</text>
<text class="k" x="753" y="779">TAC wrong configure &amp; LAC-TAC mapping</text>
<text class="r" x="855.7" y="779">Configure Correct TAC as per planning &amp; ensure correct TAC LAC Mapping</text>
<text class="k" x="753" y="786.6">CN abnormal release</text>
<text class="r" x="807.3" y="786.6">Cell trace and check with Core Engineer</text>
</g>

<g id="n-erab"><text class="k" x="494.5" y="921.8">ERAB ESTABLISHMENT</text>
<text class="b" x="561.8" y="870.8">PmErabEstabAttInit<tspan x="561.8" dy="5.67">(pmErabEstabAttInitArp , pmErabEstabAttInitPa)</tspan><tspan x="561.8" dy="5.67">PmErabEstabSuccInit.</tspan><tspan x="561.8" dy="5.67">(pmErabEstabSuccInitArp , pmErabEstabSuccInitPa)</tspan><tspan x="561.8" dy="5.67">PmErabEstabAttAdded</tspan><tspan x="561.8" dy="5.67">(pmErabEstabAttAddedArp , pmErabEstabAttAddedPa)</tspan><tspan x="561.8" dy="5.67">PmErabEstabSuccAdded</tspan><tspan x="561.8" dy="5.67">(pmErabEstabSuccAddedArp , pmErabEstabSuccAddedPa)</tspan><tspan x="561.8" dy="5.67">pmErabEstabAttAddedHoOngoing</tspan><tspan x="561.8" dy="5.67">pmErabEstabAttAddedHoOngoingArp</tspan></text>
</g>

<g id="n-pm-counter"><text class="k" x="698.2" y="805.2">PM Counter</text>
<text class="b" x="735.5" y="793.7">pmErabEstabFailGbrDlEnb</text>
<text class="g" x="806.2" y="793.7">dlNonGbrRatio , dlTransNwBandwidth</text>
<text class="r" x="897.8" y="793.7">Tune Dynamic GBR Admission Control related parameter</text>
<text class="b" x="735.5" y="801.4">pmErabEstabFailGbrUlEnb</text>
<text class="g" x="806.2" y="801.4">ulNonGbrRatio , ulTransNwBandwidth</text>
<text class="r" x="897.8" y="801.4">Tune Dynamic GBR Admission Control related parameter</text>
<text class="k" x="735.5" y="816.2">License</text>
<text class="b" x="762.3" y="809">pmErabEstabFailAddedLic</text>
<text class="r" x="830" y="809">Check license &amp; Feature state of Multiple Radio Bearer per user or RLC UM</text>
<text class="b" x="762.3" y="816.7">pmErabEstabFailInitLic</text>
<text class="r" x="824.6" y="816.7">Check license &amp; Feature state of Multiple Radio Bearer per user or RLC UM</text>
<text class="b" x="762.3" y="824.4">pmErabModFailLic</text>
<text class="r" x="806" y="824.4">Lack of license of Dynamic QoS Modification</text>
</g>

<g id="n-rc3"><text class="k" x="694.4" y="881">Radio Cause</text>
<text class="k" x="735.3" y="853.2">Poor DL SINR (CQI)</text>
<text class="b" x="790" y="847.8">pmRadioUeRepCqiDistr<tspan x="790" dy="5.4">pmRadioUeRepCqiDistr2</tspan></text>
<text class="g" x="853.5" y="831.5">maximumTransmissionPower<tspan x="853.5" dy="5.43">partOfSectorPower</tspan><tspan x="853.5" dy="5.43">confOutputPower</tspan><tspan x="853.5" dy="5.43">crsGain</tspan><tspan x="853.5" dy="5.43">pdschTypeBGain</tspan></text>
<text class="r" x="927.4" y="842.3">Tune related parameters (as mentioned beside) , Audit cell reselection parameters<tspan x="927.4" dy="5.45">Physical optimization (Tilt , Azimuth , height of antenna)</tspan><tspan x="927.4" dy="5.45">Identify overshooting cells causing interference in DL</tspan></text>
<text class="k" x="735.3" y="883.8">Coverage issues</text>
<text class="b" x="779.3" y="873">pmBadCovEvalReport<tspan x="779.3" dy="5.4">pmRadioTbsPwrRestricted</tspan><tspan x="779.3" dy="5.4">pmBadCovSearchEvalReport</tspan></text>
<text class="g" x="853" y="861.9">maximumTransmissionPower<tspan x="853" dy="5.5">partOfSectorPower</tspan><tspan x="853" dy="5.5">confOutputPower</tspan><tspan x="853" dy="5.5">crsGain</tspan><tspan x="853" dy="5.5">pdschTypeBGain</tspan></text>
<text class="r" x="923" y="873">Indoor coverage issue (Small cell , PICO , DOT , Hetnet)<tspan x="923" dy="5.4">Physical changes (Tilt , Azimuth , height of antenna)</tspan><tspan x="923" dy="5.4">Audit cell reselection parameters &amp; Tune DL power related parameters (as mentioned beside) also Check if there is scope of new site</tspan></text>
<text class="k" x="735.3" y="908.1">UL RSSI</text>
<text class="b" x="763.9" y="891.5">pmRadioRecInterferencePwr<tspan x="763.9" dy="5.53">pmRadioRecInterferencePwrPucch</tspan><tspan x="763.9" dy="5.53">pmRadioRecInterferencePwrPrb1-100</tspan><tspan x="763.9" dy="5.53">pmSinrPucchDistr , pmSinrPuschDistr</tspan></text>
<text class="g" x="857" y="902.6">pZeroNominalPucch<tspan x="857" dy="5.53">pZeroNominalPusch</tspan></text>
<text class="r" x="909.8" y="891.5">Check Power control parameters<tspan x="909.8" dy="5.53">Features like IRC &amp; UL FSS can help to reduce UL interference.</tspan><tspan x="909.8" dy="5.53">Check for Loose Connectors,Faulty Antenna(Tx &amp; Rx antenna ports),VSWR alarms,Faulty TMA Connections/settings.</tspan><tspan x="909.8" dy="5.53">External interference (cable tv , repeaters (due to power leak issues) , airport , police communication system etc..)</tspan></text>
</g>

<g id="n-other-checks-erab"><text class="k" x="698" y="1038.2">Other checks</text>
<text class="k" x="736.6" y="1038.2">HW Cause</text>
<text class="k" x="770" y="996.6">Availability</text>
<text class="k" x="805" y="951.4">Cell down</text>
<text class="k" x="836.4" y="938.7">Cell Down Auto</text>
<text class="b" x="880" y="933">pmCellDowntimeAuto<tspan x="880" dy="5.7">pmCellDownLockAuto</tspan></text>
<text class="k" x="937.5" y="926">eNodeB Cause</text>
<text class="k" x="978.9" y="915">Configuration issues</text>
<text class="r" x="1031.9" y="915">ensure proper configuration , especially for all new site which are integrated recently</text>
<text class="k" x="978.9" y="928.5">Auto Restart</text>
<text class="r" x="1017" y="922.7">Ensure the eNodeB structure of the restart, MP , Baseband or RRU<tspan x="1017" dy="5.8">lh all lhsg -l (do complete eNB health checkup)</tspan></text>
<text class="k" x="978.9" y="936.2">Baseband Startup issue</text>
<text class="r" x="1038.6" y="936.2">Baseband Trace can be used  , te enable all bbmcBbOmMcSwU</text>
<text class="k" x="938.8" y="943.8">Transport Cause</text>
<text class="k" x="982.4" y="943.8">S1 issues</text>
<text class="b" x="1012.6" y="943.8">pmErabRelAbnormalEnbActTnFail</text>
<text class="r" x="1098" y="943.8">check for alarms like Service Unavailable(S1 connection failure)</text>
<text class="k" x="938.8" y="951.4">EPC Cause</text>
<text class="r" x="972.4" y="951.4">check for alarms like Service Unavailable(S1 connection failure) , Ip packet loss "above" SGW</text>
<text class="k" x="836.4" y="964.7">Cell Down Manually</text>
<text class="b" x="890.3" y="959">pmCellDowntimeMan<tspan x="890.3" dy="5.7">pmCellDownLockMan</tspan></text>
<text class="k" x="948.7" y="964.7">Operation Cause</text>
<text class="r" x="995" y="959">manually locked during network configuration issues ((eg. adding/changing/removing hardware)<tspan x="995" dy="5.7">manually locked during parameter change (eg. activate feature)</tspan></text>
<text class="k" x="805" y="1020.4">Sleeping Cell</text>
<text class="b" x="843.1" y="972.4">pmRaAttCbra<tspan x="843.1" dy="5.5">pmRaSuccCbra</tspan><tspan x="843.1" dy="5.5">pmRaFailCbraMsg2Disc</tspan><tspan x="843.1" dy="5.5">pmRaAttCfra</tspan><tspan x="843.1" dy="5.5">pmRaSuccCfra</tspan><tspan x="843.1" dy="5.5">pmRaFailCfraMsg2Disc</tspan><tspan x="843.1" dy="5.5">pmRaAllocCfra</tspan><tspan x="843.1" dy="5.5">pmRrcConnEstabAtt</tspan><tspan x="843.1" dy="5.5">pmRrcConnSucc</tspan></text>
<text class="r" x="905.1" y="1016.4">Verify symptoms for sleeping cell</text>
<text class="k" x="843.1" y="1024">Catch Trace(Baseband)</text>
<text class="r" x="905.1" y="1024">trace from MSG1 to MSG5 , verify symtoms for sleeping cells</text>
<text class="k" x="805" y="1040.7">Non-access issue</text>
<text class="k" x="849" y="1035.4">Configuration issue</text>
<text class="k" x="900.6" y="1031.1">Power setting issue</text>
<text class="r" x="951" y="1031.1">Check SectorEquipmentFunction:ConfiguredOutputPower &amp; EutrancelIdd:partOfSectorPower</text>
<text class="k" x="900.6" y="1038.7">Idle mode parameter issue</text>
<text class="r" x="965.8" y="1038.7">Check EutrancelIdd MO cell selection and reselection parameters &amp; 3G&amp;2G cell reselection parameter/feature</text>
<text class="k" x="849" y="1046.9">Operation issues</text>
<text class="k" x="894.8" y="1046.9">Cell Barred</text>
<text class="r" x="929.9" y="1046.9">Check Cell Barred , acBarring for different scenarios</text>
<text class="k" x="770" y="1065.5">Alarms</text>
<text class="r" x="796" y="1054">Common alarm : "resource configuration disable" , RRU fault , link failure , Check current &amp; history alarms &amp; take necessary action according to type of Alarms<tspan x="796" dy="5.75">Check RRU status , Reset boards , Verify SW on node</tspan><tspan x="796" dy="5.75">S1 links down due to faulty interface board.</tspan></text>
<text class="k" x="770" y="1073.2">VSWR</text>
<text class="r" x="794.6" y="1073.2">CABX , verify VSWR on all ports of antenna</text>
<text class="k" x="770" y="1080.3">TMA check</text>
<text class="r" x="805" y="1080.3">Faulty TMA Connections &amp; faulty settings</text>
</g>
</g>
</g>
</svg>
